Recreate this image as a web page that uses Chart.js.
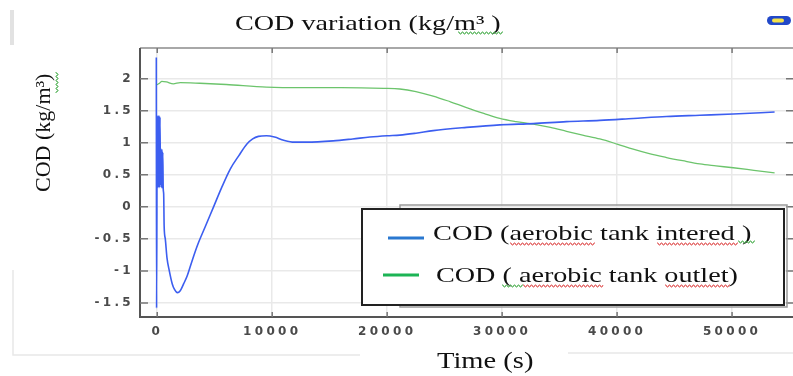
<!DOCTYPE html>
<html>
<head>
<meta charset="utf-8">
<script src="https://cdn.jsdelivr.net/npm/chart.js@4"></script>
<style>
  html, body { margin: 0; padding: 0; background: #ffffff; }
  canvas { display: block; }
</style>
</head>
<body>
<canvas id="c" width="793" height="376"></canvas>
<script>
// ---- data ----
const titleText = 'COD variation (kg/m³ )';
const xTitle = 'Time (s)';
const yTitle = 'COD (kg/m³)';
const seriesNames = ['COD (aerobic tank intered )', 'COD ( aerobic tank outlet)'];

const timeIntered = [-80, -60, 0, 40, 80, 120, 160, 200, 240, 280, 320, 360, 400, 440, 480, 520, 560, 600, 700, 850, 1050, 1300, 1500, 1750, 2000, 2300, 2600, 3000, 3500, 4200, 4900, 5600, 6350, 7100, 7800, 8300, 8800, 9500, 10200, 11000, 11900, 13000, 15300, 17000, 18500, 20000, 21100, 22500, 24000, 26900, 29800, 32700, 35600, 38500, 41400, 44300, 47200, 50100, 53700];
const codIntered  = [2.33, -1.58, 1.42, 0.3, 1.42, 0.3, 1.42, 0.3, 1.4, 0.35, 0.9, 0.3, 0.9, 0.3, 0.85, 0.28, 0.2, -0.3, -0.5, -0.8, -1.0, -1.2, -1.29, -1.34, -1.31, -1.2, -1.08, -0.86, -0.6, -0.3, 0.0, 0.3, 0.59, 0.8, 0.98, 1.06, 1.1, 1.11, 1.09, 1.04, 1.01, 1.01, 1.03, 1.06, 1.09, 1.11, 1.12, 1.15, 1.19, 1.24, 1.28, 1.3, 1.33, 1.35, 1.38, 1.41, 1.43, 1.45, 1.48];

const timeOutlet = [-80, 200, 400, 800, 1400, 2000, 3700, 6000, 9500, 12400, 16000, 19700, 21100, 22500, 24000, 25500, 26900, 28400, 29800, 31200, 32700, 34200, 35600, 37000, 38500, 40000, 41400, 42800, 44300, 45700, 47200, 48600, 50100, 51900, 53700];
const codOutlet  = [1.9, 1.93, 1.96, 1.95, 1.92, 1.94, 1.93, 1.91, 1.87, 1.86, 1.86, 1.85, 1.84, 1.8, 1.73, 1.64, 1.55, 1.46, 1.38, 1.33, 1.29, 1.24, 1.18, 1.12, 1.06, 0.98, 0.9, 0.83, 0.77, 0.72, 0.67, 0.64, 0.61, 0.57, 0.53];

const xTicks = [0, 10000, 20000, 30000, 40000, 50000];
const yTicks = [-1.5, -1, -0.5, 0, 0.5, 1, 1.5, 2];
const xRange = [-1500, 55300];
const yRange = [-1.72, 2.48];

// ---- helpers ----
function toPoints(xs, ys) { return xs.map((x, i) => ({ x: x, y: ys[i] })); }

function wavy(ctx, x1, x2, y, color, vertical) {
  ctx.save();
  ctx.strokeStyle = color;
  ctx.lineWidth = 1;
  ctx.beginPath();
  const len = Math.abs(x2 - x1);
  for (let i = 0; i <= len; i += 1) {
    const off = (Math.floor(i / 2) % 2 === 0) ? -1 : 1;
    if (vertical) {
      const yy = Math.min(x1, x2) + i;
      if (i === 0) ctx.moveTo(y + off, yy); else ctx.lineTo(y + off, yy);
    } else {
      const xx = Math.min(x1, x2) + i;
      if (i === 0) ctx.moveTo(xx, y + off); else ctx.lineTo(xx, y + off);
    }
  }
  ctx.stroke();
  ctx.restore();
}

function stretchedText(ctx, text, x, y, font, sx, color) {
  ctx.save();
  ctx.font = font;
  ctx.fillStyle = color || '#111';
  ctx.textAlign = 'left';
  ctx.textBaseline = 'alphabetic';
  ctx.translate(x, y);
  ctx.scale(sx, 1);
  ctx.fillText(text, 0, 0);
  ctx.restore();
}

const decor = {
  id: 'decor',
  beforeDraw(chart) {
    const ctx = chart.ctx;
    ctx.save();
    ctx.fillStyle = '#ffffff';
    ctx.fillRect(0, 0, chart.width, chart.height);
    // faint page frame pieces
    ctx.fillStyle = '#e2e2e2';
    ctx.fillRect(10, 10, 4, 35);
    ctx.strokeStyle = '#e8e8e8';
    ctx.lineWidth = 1.5;
    ctx.beginPath();
    ctx.moveTo(13, 270); ctx.lineTo(13, 355); ctx.lineTo(360, 355);
    ctx.moveTo(568, 353); ctx.lineTo(793, 353);
    ctx.stroke();
    ctx.restore();
    ctx.letterSpacing = '3.3px';
  },
  beforeDatasetsDraw(chart) {
    chart.ctx.letterSpacing = '0px';
  },
  afterDatasetsDraw(chart) {
    const ctx = chart.ctx;
    const a = chart.chartArea;
    const xs = chart.scales.x, ys = chart.scales.y;
    ctx.save();
    ctx.letterSpacing = '0px';
    // frame lines
    ctx.lineWidth = 2;
    ctx.strokeStyle = '#a8a8a8';
    ctx.beginPath(); ctx.moveTo(a.left, a.top); ctx.lineTo(a.right, a.top); ctx.stroke();
    ctx.strokeStyle = '#555';
    ctx.beginPath(); ctx.moveTo(a.left, a.top); ctx.lineTo(a.left, a.bottom); ctx.lineTo(a.right, a.bottom); ctx.stroke();
    // tick marks
    ctx.lineWidth = 1.5;
    ctx.strokeStyle = '#777';
    ctx.beginPath();
    yTicks.forEach(v => {
      const py = ys.getPixelForValue(v);
      ctx.moveTo(a.left, py); ctx.lineTo(a.left + 8, py);
      ctx.moveTo(a.right - 7, py); ctx.lineTo(a.right, py);
    });
    xTicks.forEach(v => {
      const px = xs.getPixelForValue(v);
      ctx.moveTo(px, a.top); ctx.lineTo(px, a.top + 5);
      ctx.moveTo(px, a.bottom); ctx.lineTo(px, a.bottom - 5);
    });
    ctx.stroke();
    ctx.restore();
  },
  afterDraw(chart) {
    const ctx = chart.ctx;
    ctx.save();
    ctx.letterSpacing = '0px';
    const serif = '"Liberation Serif", "Times New Roman", serif';
    // title
    stretchedText(ctx, titleText, 235, 30, '22px ' + serif, 1.28, '#111');
    wavy(ctx, 458, 503, 33, '#4caf50');
    // x title
    stretchedText(ctx, xTitle, 437, 368, '23px ' + serif, 1.24, '#111');
    // y title (rotated)
    ctx.save();
    ctx.font = '22px ' + serif;
    ctx.fillStyle = '#111';
    ctx.translate(50, 192);
    ctx.rotate(-Math.PI / 2);
    ctx.textAlign = 'left';
    ctx.textBaseline = 'alphabetic';
    ctx.fillText(yTitle, 0, 0);
    ctx.restore();
    wavy(ctx, 72, 93, 57, '#4caf50', true);

    // legend shadow + box
    ctx.strokeStyle = '#9a9a9a';
    ctx.lineWidth = 1.5;
    ctx.strokeRect(400, 205, 387, 102);
    ctx.fillStyle = '#ffffff';
    ctx.fillRect(362, 209, 422, 96);
    ctx.strokeStyle = '#222';
    ctx.lineWidth = 2;
    ctx.strokeRect(362, 209, 422, 96);
    // legend items
    ctx.lineWidth = 3;
    ctx.strokeStyle = '#2a78d0';
    ctx.beginPath(); ctx.moveTo(388, 238); ctx.lineTo(424, 238); ctx.stroke();
    ctx.strokeStyle = '#1cb455';
    ctx.beginPath(); ctx.moveTo(383, 275); ctx.lineTo(419, 275); ctx.stroke();
    stretchedText(ctx, seriesNames[0], 433, 240, '22px ' + serif, 1.29, '#111');
    stretchedText(ctx, seriesNames[1], 436, 282, '22px ' + serif, 1.28, '#111');
    // spell-check squiggles
    wavy(ctx, 510, 595, 244, '#e05050');
    wavy(ctx, 657, 738, 244, '#e05050');
    wavy(ctx, 738, 755, 242, '#4caf50');
    wavy(ctx, 502, 523, 286, '#4caf50');
    wavy(ctx, 523, 603, 286, '#e05050');
    wavy(ctx, 665, 730, 286, '#e05050');

    // small icon top right
    ctx.save();
    ctx.fillStyle = '#2148c9';
    ctx.beginPath();
    ctx.roundRect(767, 16, 24, 9, 4.5);
    ctx.fill();
    ctx.fillStyle = '#f4e24a';
    ctx.beginPath();
    ctx.roundRect(772, 18.5, 12, 4, 2);
    ctx.fill();
    ctx.restore();
    ctx.restore();
  }
};

const tickFont = { family: '"DejaVu Sans", Verdana, sans-serif', size: 12, weight: 'bold' };

new Chart(document.getElementById('c'), {
  type: 'line',
  data: {
    datasets: [
      {
        label: seriesNames[0],
        data: toPoints(timeIntered, codIntered),
        borderColor: '#3c5ef0',
        borderWidth: 1.6,
        pointRadius: 0,
        cubicInterpolationMode: 'monotone',
        fill: false
      },
      {
        label: seriesNames[1],
        data: toPoints(timeOutlet, codOutlet),
        borderColor: '#6cc46c',
        borderWidth: 1.3,
        pointRadius: 0,
        cubicInterpolationMode: 'monotone',
        fill: false
      }
    ]
  },
  options: {
    responsive: false,
    animation: false,
    devicePixelRatio: 1,
    layout: { padding: { left: 0, top: 48, right: 0, bottom: 0 } },
    plugins: {
      legend: { display: false },
      title: { display: false },
      tooltip: { enabled: false }
    },
    scales: {
      x: {
        type: 'linear',
        min: xRange[0],
        max: xRange[1],
        afterBuildTicks: s => { s.ticks = xTicks.map(v => ({ value: v })); },
        afterFit: s => { s.height = 59; },
        grid: { color: '#e9e9e9', lineWidth: 1.5, drawTicks: false },
        border: { display: false },
        ticks: {
          autoSkip: false,
          maxRotation: 0,
          padding: 8,
          color: '#4a4a4a',
          font: tickFont,
          callback: v => String(v)
        }
      },
      y: {
        type: 'linear',
        min: yRange[0],
        max: yRange[1],
        afterBuildTicks: s => { s.ticks = yTicks.map(v => ({ value: v })); },
        afterFit: s => { s.width = 140; },
        grid: { color: '#e9e9e9', lineWidth: 1.5, drawTicks: false },
        border: { display: false },
        ticks: {
          padding: 6,
          color: '#4a4a4a',
          font: tickFont,
          callback: v => String(v)
        }
      }
    }
  },
  plugins: [decor]
});
</script>
</body>
</html>
